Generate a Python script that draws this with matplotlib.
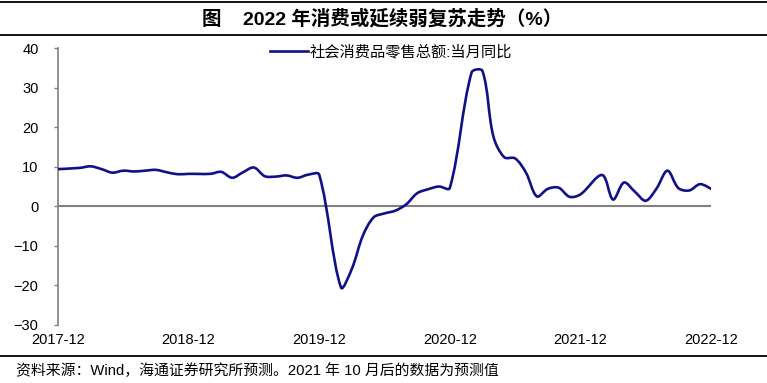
import numpy as np
import matplotlib
matplotlib.use("Agg")
import matplotlib.pyplot as plt
from matplotlib.path import Path
from matplotlib.patches import PathPatch
from matplotlib.lines import Line2D

plt.rcParams['font.family'] = ['Liberation Sans', 'Noto Sans CJK SC', 'DejaVu Sans']

# ---- data: monthly, 2017-12 .. 2022-12 (January not published -> nan) ----
month_labels = [f"{y}-{m:02d}" for y, m in
                [(2017, 12)] + [(yy, mm) for yy in range(2018, 2023) for mm in range(1, 13)]]
values = [
    9.4,                                                          # 2017-12
    np.nan, 9.7, 10.1, 9.4, 8.5, 9.0, 8.8, 9.0, 9.2, 8.6, 8.1, 8.2,   # 2018
    np.nan, 8.2, 8.7, 7.2, 8.6, 9.8, 7.6, 7.5, 7.8, 7.2, 8.0, 8.0,    # 2019
    np.nan, -20.5, -15.8, -7.5, -2.8, -1.8, -1.1, 0.5, 3.3, 4.3, 5.0, 4.6,  # 2020
    np.nan, 33.8, 34.2, 17.7, 12.4, 12.1, 8.5, 2.5, 4.4, 4.7, 2.4, 3.0,     # 2021
    np.nan, 7.9, 1.7, 6.0, 3.7, 1.4, 4.5, 9.0, 4.6, 4.0, 5.6, 4.4,          # 2022
]
tick_labels = ["2017-12", "2018-12", "2019-12", "2020-12", "2021-12", "2022-12"]
series_name = "社会消费品零售总额:当月同比"
title = "图    2022 年消费或延续弱复苏走势（%）"
source = "资料来源：Wind，海通证券研究所预测。2021 年 10 月后的数据为预测值"

line_color = "#10108a"
gray = "#808080"

W, H = 767, 383
fig = plt.figure(figsize=(W / 100, H / 100), dpi=100)
ax = fig.add_axes([58 / W, 1 - 325 / H, (711 - 58) / W, (325 - 48) / H])

ax.set_xlim(0, len(values) - 1)
ax.set_ylim(-30, 40)

x_all = np.arange(len(values))
v = np.array(values, dtype=float)
mask = ~np.isnan(v)
xs, ys = x_all[mask].astype(float), v[mask]

# smoothed line (Excel-style Bezier through the data points, computed in pixel space)
P = ax.transData.transform(np.column_stack([xs, ys]))
n = len(P)
seg = np.linalg.norm(np.diff(P, axis=0), axis=1)
c_out = np.zeros_like(P)
c_in = np.zeros_like(P)
for i in range(n):
    if i == 0 or i == n - 1:
        c_out[i] = P[i]
        c_in[i] = P[i]
        continue
    T = P[i + 1] - P[i - 1]
    d_in, d_out = seg[i - 1], seg[i]
    tot = d_in + d_out
    c_out[i] = P[i] + T * (d_out / tot) / 3.0
    c_in[i] = P[i] - T * (d_in / tot) / 3.0
verts_px = [P[0]]
codes = [Path.MOVETO]
for i in range(n - 1):
    verts_px += [c_out[i], c_in[i + 1], P[i + 1]]
    codes += [Path.CURVE4] * 3
verts = ax.transData.inverted().transform(np.array(verts_px))

ax.axhline(0, color=gray, lw=1.5, zorder=1)
ax.add_patch(PathPatch(Path(verts, codes), facecolor='none', edgecolor=line_color,
                       lw=1.9, capstyle='round', joinstyle='round', zorder=3))

ax.set_yticks(np.arange(-30, 41, 10))
ax.set_xticks([month_labels.index(t) for t in tick_labels])
ax.set_xticklabels(tick_labels)
for s in ['top', 'right', 'bottom']:
    ax.spines[s].set_visible(False)
ax.spines['left'].set_color(gray)
ax.spines['left'].set_linewidth(1.2)
ax.tick_params(axis='y', direction='out', length=3, width=1, color=gray,
               labelsize=10.5, pad=11, labelcolor='black')
ax.tick_params(axis='x', length=0, labelsize=10.5, pad=6)

handle = Line2D([], [], color=line_color, lw=1.9)
ax.legend([handle], [series_name], loc='center', bbox_to_anchor=(0.51, 0.985),
          frameon=False, fontsize=11, handlelength=2.5, handletextpad=0.15,
          borderaxespad=0, borderpad=0)

# title, rules and footer
fig.add_artist(Line2D([0, 1], [1 - 1.5 / H, 1 - 1.5 / H], color='black', lw=1.3))
fig.add_artist(Line2D([0, 1], [1 - 35 / H, 1 - 35 / H], color='black', lw=1.3))
fig.add_artist(Line2D([0, 1], [1 - 356 / H, 1 - 356 / H], color='black', lw=1.3))
fig.text(382 / W, 1 - 19 / H, title, ha='center', va='center',
         fontsize=14, fontweight='bold')
fig.text(16 / W, 1 - 371 / H, source, ha='left', va='center', fontsize=10.7)

fig.savefig("out.png", dpi=100)
